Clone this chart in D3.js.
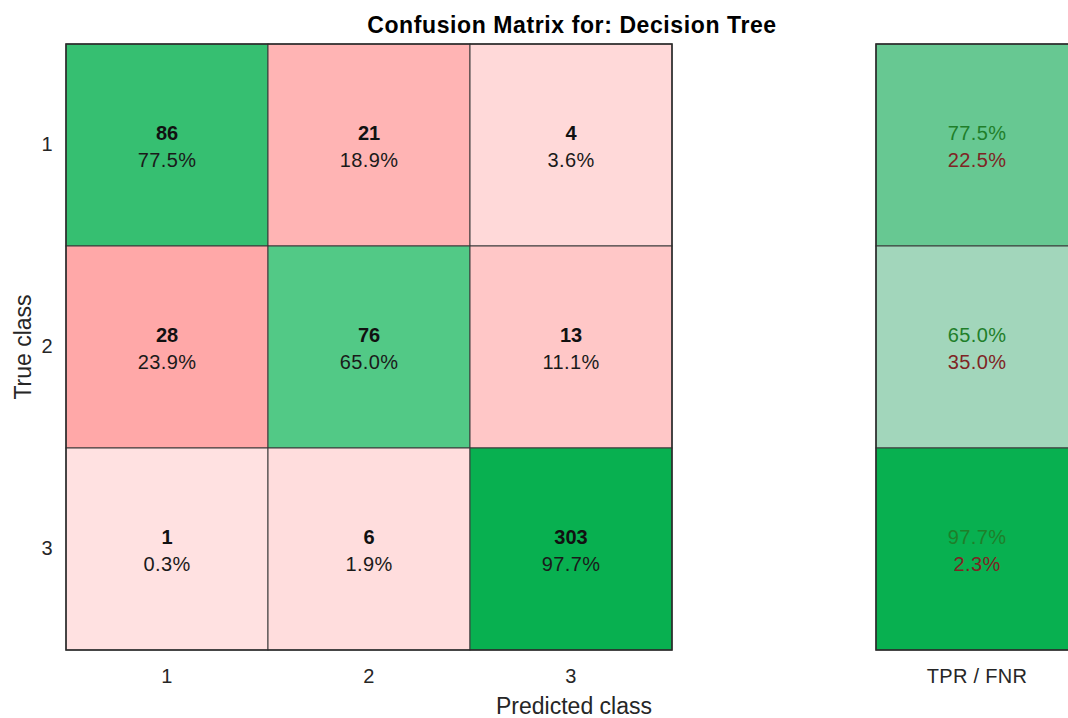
<!DOCTYPE html>
<html>
<head>
<meta charset="utf-8">
<script src="https://cdn.jsdelivr.net/npm/d3@7"></script>
<style>
  html, body { margin: 0; padding: 0; background: #fff; overflow: hidden; }
  svg { display: block; font-family: "Liberation Sans", Arial, Helvetica, sans-serif; }
</style>
</head>
<body>
<svg id="chart" width="1068" height="718"></svg>
<script>
// Class labels and confusion counts (rows = true class, columns = predicted class)
const classes = ["1", "2", "3"];
const countsRow1 = [86, 21, 4];
const countsRow2 = [28, 76, 13];
const countsRow3 = [1, 6, 303];
const counts = [countsRow1, countsRow2, countsRow3];
const summaryLabel = ["TPR / FNR"];

const chartTitle = "Confusion Matrix for: Decision Tree";
const xTitle = "Predicted class";
const yTitle = "True class";

const svg = d3.select("#chart");

// Row-normalised percentages
const rowTotals = counts.map(r => d3.sum(r));
const cells = [];
counts.forEach((row, i) => row.forEach((v, j) => {
  cells.push({ t: classes[i], p: classes[j], count: v, pct: 100 * v / rowTotals[i], diag: i === j });
}));
const summary = counts.map((row, i) => {
  const tpr = 100 * row[i] / rowTotals[i];
  return { t: classes[i], tpr, fnr: 100 - tpr };
});

const x = d3.scaleBand().domain(classes).range([66, 672]);
const y = d3.scaleBand().domain(classes).range([44, 650]);
const xs = d3.scaleBand().domain(summaryLabel).range([876, 1078]);

const diagColor = d3.scaleLinear().domain([65, 97.7]).range(["#52c986", "#08b050"]);
const offColor = d3.scaleLinear().domain([0, 23.9]).range(["#ffe2e2", "#ffa8a8"]);
const sumColor = d3.scaleLinear().domain([65, 97.7]).range(["#a2d6bb", "#08b050"]);

const fmt = v => v.toFixed(1) + "%";

// Title, centred over the whole chart (matrix + summary column)
svg.append("text")
  .attr("x", 572).attr("y", 33)
  .attr("text-anchor", "middle")
  .attr("font-size", 23).attr("font-weight", "bold")
  .attr("letter-spacing", 0.6)
  .attr("fill", "#000")
  .text(chartTitle);

// Matrix cells
const g = svg.append("g");
g.selectAll("rect.cell").data(cells).join("rect")
  .attr("class", "cell")
  .attr("x", d => x(d.p)).attr("y", d => y(d.t))
  .attr("width", x.bandwidth()).attr("height", y.bandwidth())
  .attr("fill", d => d.diag ? diagColor(d.pct) : offColor(d.pct))
  .attr("stroke", "#3a3a3a").attr("stroke-width", 1);

g.selectAll("text.count").data(cells).join("text")
  .attr("class", "count")
  .attr("x", d => x(d.p) + x.bandwidth() / 2)
  .attr("y", d => y(d.t) + y.bandwidth() / 2 - 5)
  .attr("text-anchor", "middle")
  .attr("font-size", 20).attr("font-weight", "bold")
  .attr("fill", "#111")
  .text(d => d.count);

g.selectAll("text.pct").data(cells).join("text")
  .attr("class", "pct")
  .attr("x", d => x(d.p) + x.bandwidth() / 2)
  .attr("y", d => y(d.t) + y.bandwidth() / 2 + 22)
  .attr("text-anchor", "middle")
  .attr("font-size", 20).attr("letter-spacing", 0.4)
  .attr("fill", "#1a1a1a")
  .text(d => fmt(d.pct));

// Matrix outer frame
g.append("rect")
  .attr("x", 66).attr("y", 44).attr("width", 606).attr("height", 606)
  .attr("fill", "none").attr("stroke", "#2a2a2a").attr("stroke-width", 1.5);

// Row summary column (TPR / FNR)
const s = svg.append("g");
s.selectAll("rect").data(summary).join("rect")
  .attr("x", xs(summaryLabel[0])).attr("y", d => y(d.t))
  .attr("width", xs.bandwidth()).attr("height", y.bandwidth())
  .attr("fill", d => sumColor(d.tpr))
  .attr("stroke", "#3a3a3a").attr("stroke-width", 1);
s.append("rect")
  .attr("x", 876).attr("y", 44).attr("width", 202).attr("height", 606)
  .attr("fill", "none").attr("stroke", "#2a2a2a").attr("stroke-width", 1.5);
s.selectAll("text.tpr").data(summary).join("text")
  .attr("class", "tpr")
  .attr("x", xs(summaryLabel[0]) + xs.bandwidth() / 2)
  .attr("y", d => y(d.t) + y.bandwidth() / 2 - 5)
  .attr("text-anchor", "middle").attr("font-size", 20).attr("letter-spacing", 0.4)
  .attr("fill", "#1f7f2a")
  .text(d => fmt(d.tpr));
s.selectAll("text.fnr").data(summary).join("text")
  .attr("class", "fnr")
  .attr("x", xs(summaryLabel[0]) + xs.bandwidth() / 2)
  .attr("y", d => y(d.t) + y.bandwidth() / 2 + 22)
  .attr("text-anchor", "middle").attr("font-size", 20).attr("letter-spacing", 0.4)
  .attr("fill", "#7f2424")
  .text(d => fmt(d.fnr));

// Axes
const styleAxis = sel => {
  sel.select(".domain").remove();
  sel.selectAll("text").attr("font-size", 20).attr("fill", "#262626")
    .attr("letter-spacing", 0.3)
    .attr("font-family", "Liberation Sans, Arial, sans-serif");
};
svg.append("g").attr("transform", "translate(0,650)")
  .call(d3.axisBottom(x).tickSize(0).tickPadding(19)).call(styleAxis);
svg.append("g").attr("transform", "translate(66,0)")
  .call(d3.axisLeft(y).tickSize(0).tickPadding(13)).call(styleAxis);
svg.append("g").attr("transform", "translate(0,650)")
  .call(d3.axisBottom(xs).tickSize(0).tickPadding(19)).call(styleAxis);

// Axis titles
svg.append("text")
  .attr("x", 574).attr("y", 714)
  .attr("text-anchor", "middle").attr("font-size", 23).attr("fill", "#262626")
  .text(xTitle);
svg.append("text")
  .attr("transform", "translate(31,347) rotate(-90)")
  .attr("text-anchor", "middle").attr("font-size", 23).attr("fill", "#262626")
  .text(yTitle);
</script>
</body>
</html>
